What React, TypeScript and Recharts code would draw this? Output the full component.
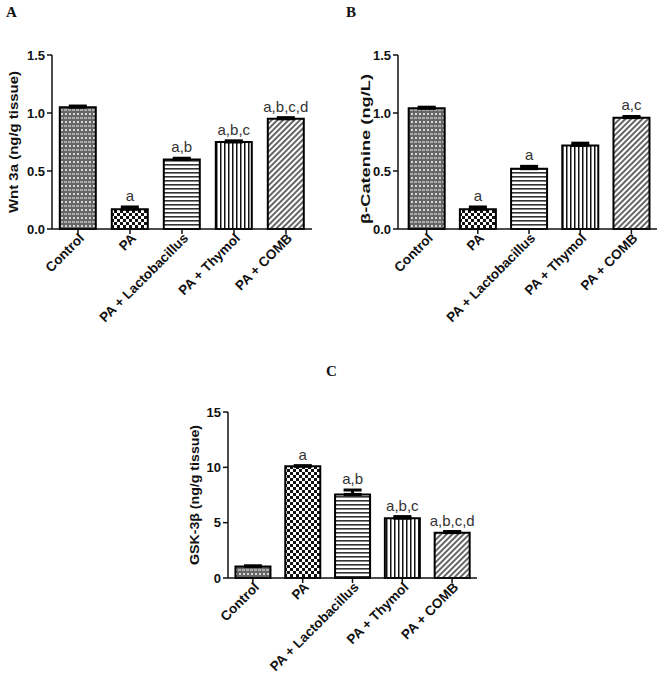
import React from 'react';
import { BarChart, Bar, XAxis, YAxis, Cell, ErrorBar, LabelList } from 'recharts';

// groups shared by all three panels
const groups = ['Control', 'PA', 'PA + Lactobacillus', 'PA + Thymol', 'PA + COMB'];

// Wnt 3a (ng/g tissue)
const wntMean = [1.05, 0.17, 0.6, 0.75, 0.95];
const wntSem = [0.01, 0.02, 0.01, 0.01, 0.01];
const wntSig = ['', 'a', 'a,b', 'a,b,c', 'a,b,c,d'];

// beta-catenin (ng/L)
const catMean = [1.04, 0.17, 0.52, 0.72, 0.96];
const catSem = [0.01, 0.02, 0.02, 0.02, 0.01];
const catSig = ['', 'a', 'a', '', 'a,c'];

// GSK-3beta (ng/g tissue)
const gskMean = [1.05, 10.1, 7.55, 5.4, 4.1];
const gskSem = [0.05, 0.05, 0.4, 0.15, 0.1];
const gskSig = ['', 'a', 'a,b', 'a,b,c', 'a,b,c,d'];

const ticks01 = [0, 0.5, 1, 1.5];
const ticksGsk = [0, 5, 10, 15];

type Row = { name: string; value: number; err: [number, number]; sig: string };

const toRows = (mean: number[], sem: number[], sig: string[]): Row[] =>
  groups.map((name, i) => ({ name, value: mean[i], err: [0, sem[i]], sig: sig[i] }));

const FONT = '"Liberation Sans", Arial, sans-serif';
const patternKeys = ['dense', 'checker', 'hlines', 'vlines', 'diag'];

const Patterns = ({ id }: { id: string }) => (
  <defs>
    <pattern id={`${id}-dense`} width={4} height={8} patternUnits="userSpaceOnUse">
      <rect width={4} height={8} fill="#666" />
      <circle cx={2} cy={2} r={1} fill="#fff" />
      <rect y={5.5} width={3} height={1} fill="#f2f2f2" />
    </pattern>
    <pattern id={`${id}-checker`} width={6} height={6} patternUnits="userSpaceOnUse">
      <rect width={6} height={6} fill="#fff" />
      <rect width={3} height={3} fill="#111" />
      <rect x={3} y={3} width={3} height={3} fill="#111" />
    </pattern>
    <pattern id={`${id}-hlines`} width={4} height={4} patternUnits="userSpaceOnUse">
      <rect width={4} height={4} fill="#fff" />
      <rect width={4} height={1.6} fill="#333" />
    </pattern>
    <pattern id={`${id}-vlines`} width={4} height={4} patternUnits="userSpaceOnUse">
      <rect width={4} height={4} fill="#fff" />
      <rect width={1.5} height={4} fill="#111" />
    </pattern>
    <pattern
      id={`${id}-diag`}
      width={4}
      height={4}
      patternUnits="userSpaceOnUse"
      patternTransform="rotate(45)"
    >
      <rect width={4} height={4} fill="#fff" />
      <rect width={2} height={4} fill="#666" />
    </pattern>
  </defs>
);

const CategoryTick = ({ x, y, payload }: any) => (
  <g transform={`translate(${x + 7},${y + 5})`}>
    <text
      transform="rotate(-45)"
      textAnchor="end"
      fontFamily={FONT}
      fontWeight="bold"
      fontSize={13.5}
      fill="#111"
    >
      {payload.value}
    </text>
  </g>
);

const AxisTitle = ({ text, cx, cy, length }: any) => (
  <text
    transform={`translate(${cx},${cy}) rotate(-90)`}
    textAnchor="middle"
    dominantBaseline="middle"
    fontFamily={FONT}
    fontWeight="bold"
    fontSize={13}
    textLength={length}
    lengthAdjust="spacingAndGlyphs"
    fill="#111"
  >
    {text}
  </text>
);

// letters above each bar, placed just over the top of its error bar
const sigLabel = (rows: Row[]) => (props: any) => {
  const { x, y, width, height, index } = props;
  const row = rows[index];
  if (!row || !row.sig) return null;
  const errPx = (row.err[1] * height) / row.value;
  return (
    <text
      x={x + width / 2}
      y={y - errPx - 6}
      textAnchor="middle"
      fontFamily={FONT}
      fontSize={15}
      fill="#333"
    >
      {row.sig}
    </text>
  );
};

type PanelProps = {
  id: string;
  rows: Row[];
  width: number;
  height: number;
  margin: { top: number; right: number; bottom: number; left: number };
  yWidth: number;
  xHeight: number;
  xPad: number;
  domain: [number, number];
  ticks: number[];
  fmt: (v: number) => string;
  title: React.ReactNode;
};

const Panel = ({ id, rows, width, height, margin, yWidth, xHeight, xPad, domain, ticks, fmt, title }: PanelProps) => (
  <BarChart width={width} height={height} data={rows} margin={margin} barCategoryGap="15%">
    <Patterns id={id} />
    <XAxis
      dataKey="name"
      interval={0}
      height={xHeight}
      tick={<CategoryTick />}
      tickSize={5}
      tickMargin={0}
      padding={{ left: xPad, right: 0 }}
      axisLine={{ stroke: '#111', strokeWidth: 1.5 }}
      tickLine={{ stroke: '#111', strokeWidth: 1.5 }}
    />
    <YAxis
      width={yWidth}
      domain={domain}
      ticks={ticks}
      tickFormatter={fmt}
      tickSize={5}
      tickMargin={2}
      axisLine={{ stroke: '#111', strokeWidth: 1.5 }}
      tickLine={{ stroke: '#111', strokeWidth: 1.5 }}
      tick={{ fontFamily: FONT, fontWeight: 'bold', fontSize: 13, fill: '#111' }}
      label={title}
    />
    <Bar dataKey="value" stroke="#000" strokeWidth={2} isAnimationActive={false}>
      {rows.map((r, i) => (
        <Cell key={r.name} fill={`url(#${id}-${patternKeys[i]})`} />
      ))}
      <ErrorBar dataKey="err" width={9} strokeWidth={3} stroke="#000" isAnimationActive={false} />
      <LabelList dataKey="sig" content={sigLabel(rows)} />
    </Bar>
  </BarChart>
);

const letterStyle: React.CSSProperties = {
  position: 'absolute',
  fontFamily: '"Liberation Serif", "Times New Roman", serif',
  fontWeight: 'bold',
  fontSize: 15,
  lineHeight: '15px',
  color: '#111',
};

export default function App() {
  const wntRows = toRows(wntMean, wntSem, wntSig);
  const catRows = toRows(catMean, catSem, catSig);
  const gskRows = toRows(gskMean, gskSem, gskSig);
  const one = (v: number) => v.toFixed(1);
  const whole = (v: number) => String(v);

  return (
    <div style={{ position: 'absolute', left: 0, top: 0, width: 662, height: 680, background: '#fff' }}>
      <div style={{ ...letterStyle, left: 6, top: 5 }}>A</div>
      <div style={{ ...letterStyle, left: 346, top: 5 }}>B</div>
      <div style={{ ...letterStyle, left: 326, top: 364 }}>C</div>

      <div style={{ position: 'absolute', left: 0, top: 0 }}>
        <Panel
          id="wnt"
          rows={wntRows}
          width={330}
          height={340}
          margin={{ top: 55, right: 18, bottom: 11, left: 0 }}
          yWidth={52}
          xHeight={100}
          xPad={0}
          domain={[0, 1.5]}
          ticks={ticks01}
          fmt={one}
          title={<AxisTitle text="Wnt 3a (ng/g tissue)" cx={15} cy={142} length={142} />}
        />
      </div>

      <div style={{ position: 'absolute', left: 330, top: 0 }}>
        <Panel
          id="cat"
          rows={catRows}
          width={332}
          height={340}
          margin={{ top: 55, right: 5, bottom: 11, left: 0 }}
          yWidth={68}
          xHeight={100}
          xPad={3}
          domain={[0, 1.5]}
          ticks={ticks01}
          fmt={one}
          title={<AxisTitle text="β-Catenine (ng/L)" cx={37} cy={149} length={150} />}
        />
      </div>

      <div style={{ position: 'absolute', left: 170, top: 340 }}>
        <Panel
          id="gsk"
          rows={gskRows}
          width={320}
          height={340}
          margin={{ top: 72, right: 13, bottom: 10, left: 0 }}
          yWidth={58}
          xHeight={92}
          xPad={0}
          domain={[0, 15]}
          ticks={ticksGsk}
          fmt={whole}
          title={<AxisTitle text="GSK-3β (ng/g tissue)" cx={26} cy={155} length={140} />}
        />
      </div>
    </div>
  );
}
